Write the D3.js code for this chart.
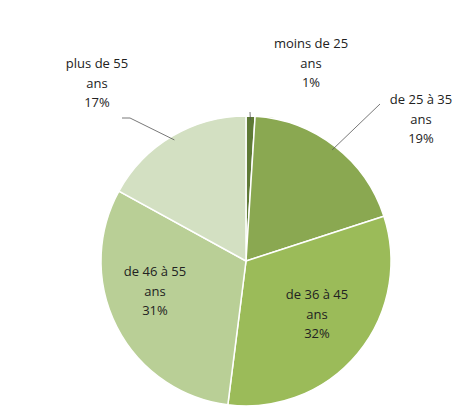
<!DOCTYPE html>
<html><head><meta charset="utf-8">
<script src="https://cdn.jsdelivr.net/npm/d3@7"></script>
<style>body{margin:0;background:#fff}</style></head>
<body><svg id="c" width="474" height="418"></svg>
<script>
const categories = ["moins de 25 ans","de 25 à 35 ans","de 36 à 45 ans","de 46 à 55 ans","plus de 55 ans"];
const values = [1,19,32,31,17];
const colors = ["#5e7a35","#8aa851","#9bbb59","#b9cf96","#d3e0c2"];
const labelLines = [["moins de 25","ans","1%"],["de 25 à 35","ans","19%"],["de 36 à 45","ans","32%"],["de 46 à 55","ans","31%"],["plus de 55","ans","17%"]];
const labelPos = [[311,48],[421,104],[317,299],[155,276],[97,68]];
const svg = d3.select("#c");
const cx=246, cy=261, r=145;
const pie = d3.pie().sort(null).value(d=>d);
const arc = d3.arc().innerRadius(0).outerRadius(r);
const g = svg.append("g").attr("transform",`translate(${cx},${cy})`);
const arcs = pie(values);
g.selectAll("path").data(arcs).join("path").attr("d",arc)
 .attr("fill",(d,i)=>colors[i]).attr("stroke","#fff").attr("stroke-width",1.5);
// leader lines for outside labels
const outer = d3.arc().innerRadius(r).outerRadius(r);
const leaders = [[0,[250,112]],[1,[380,104]],[4,[122,118]]];
leaders.forEach(([i,p])=>{
  const c = outer.centroid(arcs[i]);
  const e=[c[0]*0.97+cx,c[1]*0.97+cy];
  svg.append("polyline").attr("points",`${p[0]},${p[1]} ${i==4?p[0]+8:p[0]},${p[1]} ${e[0]},${e[1]}`)
   .attr("fill","none").attr("stroke","#555").attr("stroke-width",0.8);
});
labelLines.forEach((ls,i)=>{
  const t=svg.append("text").attr("text-anchor","middle").attr("font-family","Open Sans, Liberation Sans, sans-serif").attr("font-size",13).attr("fill","#222");
  ls.forEach((l,j)=>t.append("tspan").attr("x",labelPos[i][0]).attr("y",labelPos[i][1]+j*19.5).text(l));
});
</script></body></html>
